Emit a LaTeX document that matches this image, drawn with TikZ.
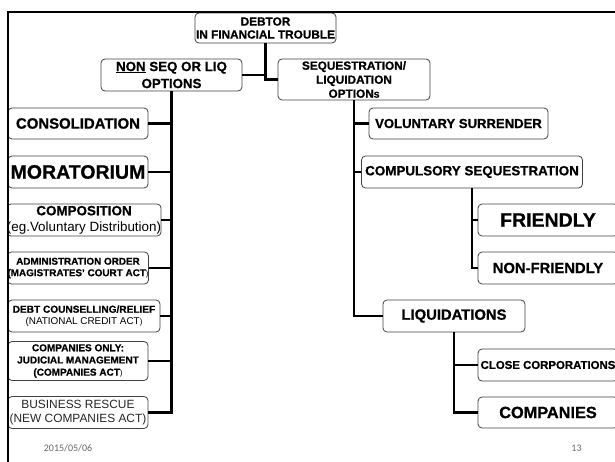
\documentclass[tikz,border=0pt]{standalone}
\usepackage{fontspec}
\setmainfont{Liberation Sans}[BoldFeatures={FakeBold=0.8}]
\newfontfamily\datefont{Carlito}
\newcommand\myfs[2]{\fontsize{#1}{#2}\selectfont}
\begin{document}
\begin{tikzpicture}[x=1pt,y=-1pt,
  box/.style={draw=black!75, line width=0.8pt, rounded corners=4pt, inner sep=0pt,
    align=center, text=black},
  conn/.style={line width=2.2pt, black},
  footer/.style={font=\datefont\myfs{10}{12}, text=black!60, inner sep=0pt}]
\useasboundingbox (0,0) rectangle (615,462);
\begin{scope}
\clip (8,0) rectangle (615,462);
% top
\node[box, minimum width=141pt, minimum height=30pt, font=\bfseries\myfs{11.8}{13}] (debtor) at (265.5,28) {DEBTOR\\IN FINANCIAL TROUBLE};
\node[box, minimum width=141pt, minimum height=32pt, font=\bfseries\myfs{13.3}{17}] (nonseq) at (171.5,75) {\underline{NON} SEQ OR LIQ\\OPTIONS};
\node[box, minimum width=152pt, minimum height=41pt, font=\bfseries\myfs{11.8}{14}] (seq) at (354,79.5) {SEQUESTRATION/\\LIQUIDATION\\OPTION{\myfs{8.5}{10}S}};
% left column
\node[box, minimum width=140pt, minimum height=31pt, font=\bfseries\myfs{14.9}{17}] (consol) at (78,123.5) {CONSOLIDATION};
\node[box, minimum width=140pt, minimum height=32pt, font=\bfseries\myfs{19.5}{22}] (morat) at (78,172) {MORATORIUM};
\node[box, minimum width=152pt, minimum height=32pt, font=\myfs{13.4}{16}] (compos) at (84,220) {\textbf{COMPOSITION}\\(eg.Voluntary Distribution)};
\node[box, minimum width=140pt, minimum height=32pt, font=\bfseries\myfs{9.9}{11.5}] (admin) at (78,268) {ADMINISTRATION ORDER\\({MAGISTRATES' COURT ACT}{\mdseries\myfs{8}{10})}};
\node[box, minimum width=152pt, minimum height=32pt, font=\myfs{9.9}{11.8}] (debt) at (84,316) {\textbf{\myfs{10.1}{11.8}DEBT COUNSELLING/RELIEF}\\(NATIONAL CREDIT ACT{\myfs{8}{10})}};
\node[box, minimum width=140pt, minimum height=39pt, font=\bfseries\myfs{10}{12.2}] (compon) at (78,361) {COMPANIES ONLY:\\JUDICIAL MANAGEMENT\\(COMPANIES ACT{\mdseries\myfs{8}{10})}};
\node[box, minimum width=140pt, minimum height=32pt, font=\myfs{11.9}{14.3}, text=black!85] (busres) at (78,412.5) {BUSINESS RESCUE\\(NEW COMPANIES ACT)};
% right side
\node[box, minimum width=179pt, minimum height=31pt, font=\bfseries\myfs{13.1}{15}] (volsur) at (458.5,123.5) {VOLUNTARY SURRENDER};
\node[box, minimum width=221pt, minimum height=32pt, font=\bfseries\myfs{13.4}{15}] (compseq) at (472,172) {COMPULSORY SEQUESTRATION};
\node[box, minimum width=140pt, minimum height=32pt, font=\bfseries\myfs{19.5}{22}] (friendly) at (548,220) {FRIENDLY};
\node[box, minimum width=140pt, minimum height=32pt, font=\bfseries\myfs{14.8}{17}] (nonfr) at (548,268) {NON-FRIENDLY};
\node[box, minimum width=142pt, minimum height=32pt, font=\bfseries\myfs{14.8}{17}] (liq) at (454,316) {LIQUIDATIONS};
\node[box, minimum width=140pt, minimum height=32pt, font=\bfseries\myfs{11.4}{13}] (closec) at (548,365) {CLOSE CORPORATIONS};
\node[box, minimum width=140pt, minimum height=31pt, font=\bfseries\myfs{16.3}{18}] (comp) at (548,412.5) {COMPANIES};
% connectors
\draw[conn] (debtor.south) |- (seq.west);
\draw[conn] (nonseq.east) -- (nonseq.east -| debtor.south);
\draw[conn] (nonseq.south) |- (busres.east);
\foreach \n in {consol,morat,compos,admin,debt,compon}
  \draw[conn] (\n.east) -- (\n.east -| nonseq.south);
\draw[conn] (seq.south) |- (liq.west);
\draw[conn] (volsur.west) -- (volsur.west -| seq.south);
\draw[conn] (compseq.west) -- (compseq.west -| seq.south);
\draw[conn] (compseq.south) |- (nonfr.west);
\draw[conn] (friendly.west) -- (friendly.west -| compseq.south);
\draw[conn] (liq.south) |- (comp.west);
\draw[conn] (closec.west) -- (closec.west -| liq.south);
\end{scope}
% frame
\coordinate (fbl) at (8,462);
\coordinate (ftl) at (8,12);
\coordinate (ftr) at (615,12);
\draw[conn, line cap=rect] (fbl) -- (ftl) -- (ftr);
% footer
\node[footer] (date) at (68,448.5) {2015/05/06};
\node[footer] (page) at (576.5,448.5) {13};
\end{tikzpicture}
\end{document}
